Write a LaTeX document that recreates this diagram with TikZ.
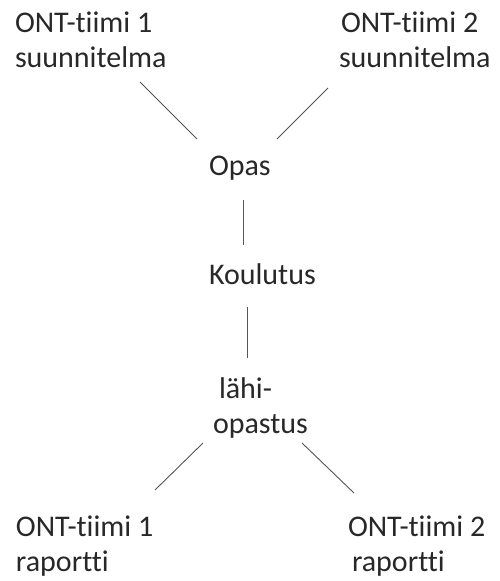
\documentclass[tikz,border=0pt]{standalone}
\usepackage{fontspec}
\setmainfont{Carlito}[Ligatures={NoCommon}]
\begin{document}
\begin{tikzpicture}[x=1pt,y=-1pt,
  lbl/.style={inner sep=0pt,outer sep=0pt,anchor=base west,align=left,
    text={rgb,255:red,40;green,40;blue,40},font=\fontsize{30}{34.5}\selectfont},
  conn/.style={draw={rgb,255:red,85;green,85;blue,85},line width=0.9pt}]
\useasboundingbox[fill=white] (0,0) rectangle (499,581);
% multi-line nodes are anchored at the baseline of their last line
\node[lbl] (tl) at (15,67) {ONT-tiimi 1\\suunnitelma};
\node[lbl] (tr) at (339,67) {\hspace*{2pt}ONT-tiimi 2\\suunnitelma};
\node[lbl] (opas) at (209,175) {Opas};
\node[lbl] (kou) at (209,284) {Koulutus};
\node[lbl] (lah) at (213,433) {\hspace*{6pt}lähi-\\opastus};
\node[lbl] (bl) at (16,571) {ONT-tiimi 1\\raportti};
\node[lbl] (br) at (348,571) {ONT-tiimi 2\\\hspace*{4pt}raportti};
% connector end points
\coordinate (a1) at (140,82);  \coordinate (a2) at (197,139);
\coordinate (b1) at (328,88);  \coordinate (b2) at (277,139);
\coordinate (c1) at (243,200); \coordinate (c2) at (243,245);
\coordinate (d1) at (247,307); \coordinate (d2) at (247,358);
\coordinate (e1) at (203,443); \coordinate (e2) at (155,490);
\coordinate (f1) at (302,443); \coordinate (f2) at (354,493);
\draw[conn] (a1) -- (a2);
\draw[conn] (b1) -- (b2);
\draw[conn] (c1) -- (c2);
\draw[conn] (d1) -- (d2);
\draw[conn] (e1) -- (e2);
\draw[conn] (f1) -- (f2);
\end{tikzpicture}
\end{document}
